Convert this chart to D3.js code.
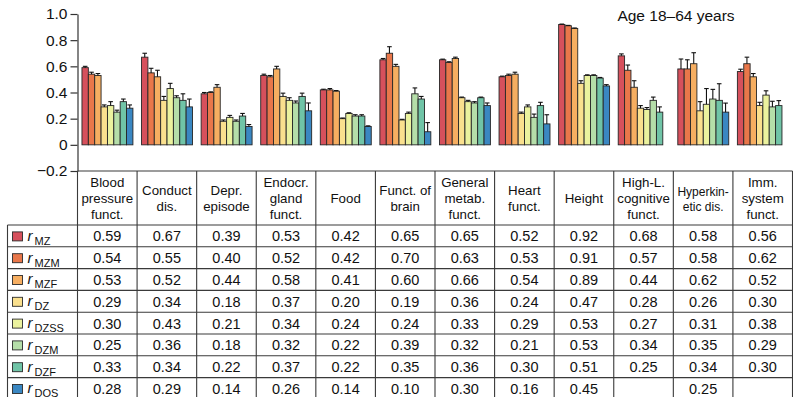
<!DOCTYPE html>
<html>
<head>
<meta charset="utf-8">
<script src="https://cdnjs.cloudflare.com/ajax/libs/d3/7.8.5/d3.min.js"></script>
<style>
body { margin: 0; background: #fff; }
svg { display: block; font-family: "Liberation Sans", Arial, Helvetica, sans-serif; }
</style>
</head>
<body>
<svg width="793" height="397"></svg>
<script>
'use strict';

// column headers (one entry per line)
var categories = [
  ['Blood', 'pressure', 'funct.'],
  ['Conduct', 'dis.'],
  ['Depr.', 'episode'],
  ['Endocr.', 'gland', 'funct.'],
  ['Food'],
  ['Funct. of', 'brain'],
  ['General', 'metab.', 'funct.'],
  ['Heart', 'funct.'],
  ['Height'],
  ['High-L.', 'cognitive', 'funct.'],
  ['Hyperkin-', 'etic dis.'],
  ['Imm.', 'system', 'funct.']
];

var seriesNames = ['MZ', 'MZM', 'MZF', 'DZ', 'DZSS', 'DZM', 'DZF', 'DOS'];
var seriesColors = ['#d6505c', '#e9774a', '#f6ae61', '#fae08e', '#ebf29e', '#b5dea9', '#70c4a7', '#3a87c2'];

var rMZ   = [0.59, 0.67, 0.39, 0.53, 0.42, 0.65, 0.65, 0.52, 0.92, 0.68, 0.58, 0.56];
var rMZM  = [0.54, 0.55, 0.40, 0.52, 0.42, 0.70, 0.63, 0.53, 0.91, 0.57, 0.58, 0.62];
var rMZF  = [0.53, 0.52, 0.44, 0.58, 0.41, 0.60, 0.66, 0.54, 0.89, 0.44, 0.62, 0.52];
var rDZ   = [0.29, 0.34, 0.18, 0.37, 0.20, 0.19, 0.36, 0.24, 0.47, 0.28, 0.26, 0.30];
var rDZSS = [0.30, 0.43, 0.21, 0.34, 0.24, 0.24, 0.33, 0.29, 0.53, 0.27, 0.31, 0.38];
var rDZM  = [0.25, 0.36, 0.18, 0.32, 0.22, 0.39, 0.32, 0.21, 0.53, 0.34, 0.35, 0.29];
var rDZF  = [0.33, 0.34, 0.22, 0.37, 0.22, 0.35, 0.36, 0.30, 0.51, 0.25, 0.34, 0.30];
var rDOS  = [0.28, 0.29, 0.14, 0.26, 0.14, 0.10, 0.30, 0.16, 0.45, null, 0.25, null];

// upper error bar lengths
var eMZ   = [0.010, 0.030, 0.010, 0.010, 0.005, 0.010, 0.005, 0.005, 0.003, 0.015, 0.076, 0.018];
var eMZM  = [0.015, 0.035, 0.005, 0.010, 0.010, 0.050, 0.005, 0.010, 0.003, 0.040, 0.070, 0.050];
var eMZF  = [0.015, 0.050, 0.020, 0.020, 0.005, 0.015, 0.010, 0.015, 0.003, 0.050, 0.084, 0.025];
var eDZ   = [0.015, 0.030, 0.010, 0.025, 0.005, 0.005, 0.005, 0.010, 0.020, 0.020, 0.070, 0.025];
var eDZSS = [0.030, 0.040, 0.015, 0.020, 0.005, 0.010, 0.010, 0.015, 0.005, 0.015, 0.120, 0.033];
var eDZM  = [0.015, 0.015, 0.010, 0.015, 0.010, 0.045, 0.010, 0.025, 0.005, 0.025, 0.074, 0.043];
var eDZF  = [0.020, 0.050, 0.020, 0.025, 0.010, 0.020, 0.005, 0.025, 0.005, 0.040, 0.127, 0.038];
var eDOS  = [0.025, 0.060, 0.015, 0.060, 0.005, 0.070, 0.020, 0.070, 0.010, null, 0.069, null];

var yTicks = [-0.2, 0, 0.2, 0.4, 0.6, 0.8, 1.0];

var values = [rMZ, rMZM, rMZF, rDZ, rDZSS, rDZM, rDZF, rDOS];
var errors = [eMZ, eMZM, eMZF, eDZ, eDZSS, eDZM, eDZF, eDOS];

var svg = d3.select('svg');
var width = +svg.attr('width');
var height = +svg.attr('height');

var left = 77.5;
var labelLeft = 7.5;
var headerH = 54;
var rowH = 21.8;

var y = d3.scaleLinear().domain([-0.2, 1.0]).range([171, 14]);
var x = d3.scaleBand().domain(d3.range(categories.length)).range([left, width - 0.5]);
var bw = x.bandwidth();
var xs = d3.scaleBand().domain(d3.range(seriesNames.length)).range([bw * 0.075, bw * 0.93]);

// bars
var cells = [];
values.forEach(function (arr, s) {
  arr.forEach(function (v, c) {
    if (v !== null) cells.push({ s: s, c: c, v: v, e: errors[s][c] });
  });
});

var bars = svg.append('g').attr('class', 'bars');

bars.selectAll('rect')
  .data(cells)
  .enter()
  .append('rect')
  .attr('x', function (d) { return x(d.c) + xs(d.s); })
  .attr('y', function (d) { return y(d.v); })
  .attr('width', xs.bandwidth())
  .attr('height', function (d) { return y(0) - y(d.v); })
  .attr('fill', function (d) { return seriesColors[d.s]; })
  .attr('stroke', '#262626')
  .attr('stroke-width', 0.9);

var err = bars.append('g').attr('stroke', '#111').attr('stroke-width', 1.1);

err.selectAll('line.v')
  .data(cells)
  .enter()
  .append('line')
  .attr('class', 'v')
  .attr('x1', function (d) { return x(d.c) + xs(d.s) + xs.bandwidth() / 2; })
  .attr('x2', function (d) { return x(d.c) + xs(d.s) + xs.bandwidth() / 2; })
  .attr('y1', function (d) { return y(d.v); })
  .attr('y2', function (d) { return y(d.v + d.e); });

err.selectAll('line.cap')
  .data(cells)
  .enter()
  .append('line')
  .attr('class', 'cap')
  .attr('x1', function (d) { return x(d.c) + xs(d.s) + xs.bandwidth() / 2 - 2.3; })
  .attr('x2', function (d) { return x(d.c) + xs(d.s) + xs.bandwidth() / 2 + 2.3; })
  .attr('y1', function (d) { return y(d.v + d.e); })
  .attr('y2', function (d) { return y(d.v + d.e); });

// y axis
var axis = svg.append('g')
  .attr('transform', 'translate(' + left + ',0)')
  .call(d3.axisLeft(y)
    .tickValues(yTicks)
    .tickSize(7)
    .tickSizeOuter(0)
    .tickPadding(3)
    .tickFormat(function (d) { return d === 0 ? '0' : d3.format('.1f')(d); }));

axis.selectAll('path, line').attr('stroke', '#333').attr('stroke-width', 1.2);
axis.selectAll('text')
  .attr('fill', '#111')
  .style('font-size', '15.5px')
  .style('font-family', '"Liberation Sans", Arial, sans-serif');

// title
svg.append('text')
  .attr('x', 676)
  .attr('y', 21)
  .attr('text-anchor', 'middle')
  .style('font-size', '15.5px')
  .attr('fill', '#111')
  .text('Age 18\u201364 years');

// table
var tableTop = y(-0.2);
var bodyTop = tableTop + headerH;
var table = svg.append('g').attr('class', 'table');
var lineColor = '#3a3a3a';

// header cells
var head = table.selectAll('g.head')
  .data(categories)
  .enter()
  .append('g')
  .attr('class', 'head');

head.append('text')
  .attr('text-anchor', 'middle')
  .attr('fill', '#111')
  .style('font-size', function (d, i) { return i === 10 ? '12px' : '13.3px'; })
  .selectAll('tspan')
  .data(function (d, i) {
    return d.map(function (t, k) { return { t: t, k: k, n: d.length, c: i }; });
  })
  .enter()
  .append('tspan')
  .attr('x', function (d) { return x(d.c) + bw / 2; })
  .attr('y', function (d) {
    var lh = d.c === 10 ? 15 : 16;
    return tableTop + headerH / 2 + 5 + (d.k - (d.n - 1) / 2) * lh;
  })
  .text(function (d) { return d.t; });

// body rows
var rows = table.selectAll('g.row')
  .data(seriesNames)
  .enter()
  .append('g')
  .attr('class', 'row')
  .attr('transform', function (d, i) { return 'translate(0,' + (bodyTop + i * rowH) + ')'; });

rows.append('rect')
  .attr('x', labelLeft + 5)
  .attr('y', rowH / 2 - 4)
  .attr('width', 10)
  .attr('height', 9)
  .attr('fill', function (d, i) { return seriesColors[i]; })
  .attr('stroke', '#2a2a2a')
  .attr('stroke-width', 0.9);

var lab = rows.append('text')
  .attr('x', labelLeft + 20)
  .attr('y', rowH / 2 + 5)
  .attr('fill', '#111');

lab.append('tspan')
  .style('font-style', 'italic')
  .style('font-size', '15px')
  .text('r');
lab.append('tspan')
  .attr('dx', 2)
  .attr('dy', 4)
  .style('font-size', '11px')
  .text(function (d) { return d; });

rows.selectAll('text.val')
  .data(function (d, i) { return values[i].map(function (v, c) { return { v: v, c: c }; }); })
  .enter()
  .append('text')
  .attr('class', 'val')
  .attr('x', function (d) { return x(d.c) + bw / 2; })
  .attr('y', rowH / 2 + 5.5)
  .attr('text-anchor', 'middle')
  .attr('fill', '#111')
  .style('font-size', '14.5px')
  .text(function (d) { return d.v === null ? '' : d3.format('.2f')(d.v); });

// grid lines
var bottom = bodyTop + seriesNames.length * rowH;
var grid = table.append('g').attr('stroke', lineColor).attr('stroke-width', 1.1);

grid.append('line')
  .attr('x1', left).attr('x2', width - 0.5)
  .attr('y1', tableTop).attr('y2', tableTop);

grid.selectAll('line.h')
  .data(d3.range(seriesNames.length))
  .enter()
  .append('line')
  .attr('class', 'h')
  .attr('x1', labelLeft).attr('x2', width - 0.5)
  .attr('y1', function (i) { return bodyTop + i * rowH; })
  .attr('y2', function (i) { return bodyTop + i * rowH; });

grid.selectAll('line.col')
  .data(d3.range(categories.length + 1))
  .enter()
  .append('line')
  .attr('class', 'col')
  .attr('x1', function (i) { return i < categories.length ? x(i) : width - 0.5; })
  .attr('x2', function (i) { return i < categories.length ? x(i) : width - 0.5; })
  .attr('y1', tableTop)
  .attr('y2', bottom);

grid.append('line')
  .attr('x1', labelLeft).attr('x2', labelLeft)
  .attr('y1', bodyTop).attr('y2', bottom);
</script>
</body>
</html>
